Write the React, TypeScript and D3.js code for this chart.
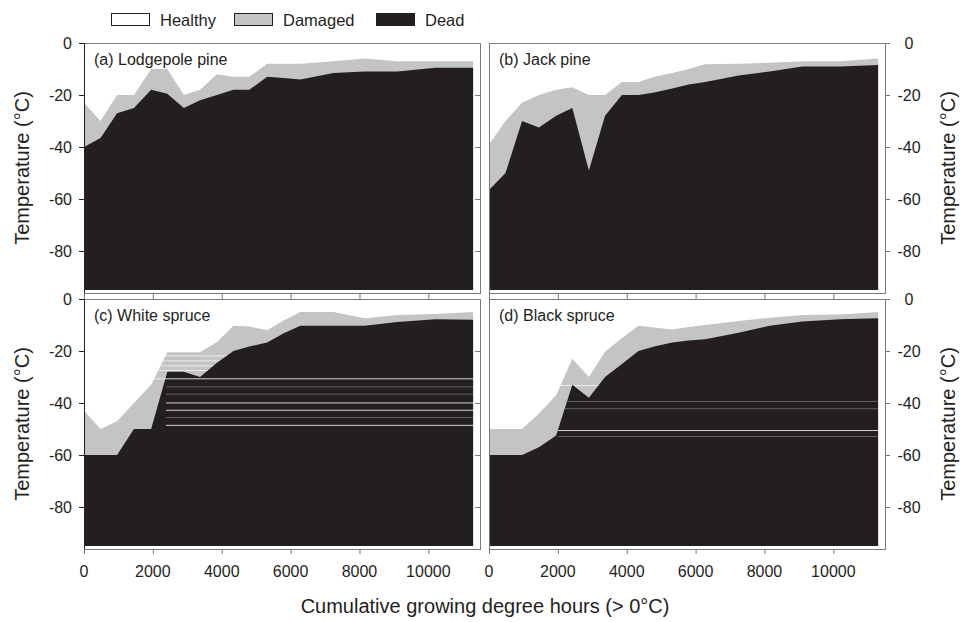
import * as d3 from "d3";

// cumulative growing degree hours (> 0°C) at each sampling date
const gdh = [0, 480, 960, 1450, 1950, 2420, 2900, 3370, 3860, 4340, 4800, 5320, 5800, 6280, 7250, 8150, 9100, 10200, 11300];

// upper temperature of each class (°C); below "dead" everything is dead
const lodgepoleDamaged = [-23, -30, -20, -20, -10, -10, -20, -18, -12, -13, -13, -8, -8, -8, -7, -6, -7, -7, -7];
const lodgepoleDead = [-40, -36.5, -27, -25, -18, -19.5, -25, -22, -20, -18, -18, -13, -13.5, -14, -11.5, -11, -11, -9.5, -9.5];
const jackDamaged = [-39, -30, -23, -20, -18, -17, -20, -20, -15, -15, -13, -11.5, -10, -8.2, -8, -7.6, -7, -7, -6];
const jackDead = [-56.5, -50, -30, -32.5, -28, -25, -49, -28, -20, -20, -19, -17.5, -16, -15, -12.5, -11, -9, -9, -8.5];
const whiteDamaged = [-43, -50, -47, -40, -33, -20.5, -20.5, -20.5, -16.5, -10.3, -10.6, -12, -8.3, -5, -5, -7.4, -6.2, -5.8, -5];
const whiteDead = [-60, -60, -60, -50, -50, -28, -28, -30, -24.5, -20, -18.3, -16.7, -13.2, -10.3, -10.3, -10.3, -8.8, -7.8, -8];
const blackDamaged = [-50, -50, -50, -44, -37, -23, -30, -20.3, -15, -10.3, -11, -11.7, -10.8, -10, -8.5, -7.2, -6.2, -6, -5];
const blackDead = [-60, -60, -60, -57, -52.5, -33, -38, -30, -25, -20, -18.3, -16.7, -16, -15.5, -13, -10.3, -8.7, -7.8, -7.4];

// faint seam lines visible in the printed figure:
// [temperature, start gdh, bright?, drawn over the dead area?]
type Seam = [number, number, number, number];
const whiteSeams: Seam[] = [
  [-21.7, 0, 1, 0], [-23.6, 0, 1, 0], [-25.5, 0, 1, 0], [-27.3, 0, 1, 0], [-30.5, 0, 1, 1], [-33.6, 2380, 0, 1],
  [-36.4, 2380, 0, 1], [-39.8, 2380, 1, 1], [-42.6, 2380, 1, 1], [-45.4, 2380, 0, 1], [-48.4, 2380, 1, 1],
];
const blackSeams: Seam[] = [
  [-33.1, 0, 1, 0], [-39.2, 2200, 0, 1], [-42, 2200, 0, 1], [-50.4, 2000, 1, 1], [-52.7, 2000, 0, 1],
];

const xTicks = [0, 2000, 4000, 6000, 8000, 10000];
const yTicks = [0, -20, -40, -60, -80];
const legendItems = ["Healthy", "Damaged", "Dead"];

const DEAD = "#231f20";
const DAMAGED = "#c3c4c6";
const FRAME = "#7a7a7a";
const FONT = "'Liberation Sans', Arial, Helvetica, sans-serif";

const cols = [{ x0: 84, x1: 480 }, { x0: 489, x1: 885 }];
const rows = [{ y0: 43, y1: 293 }, { y0: 299, y1: 549 }];

const panels = [
  { id: "a", label: "(a) Lodgepole pine", damaged: lodgepoleDamaged, dead: lodgepoleDead, col: 0, row: 0, seams: [] as Seam[] },
  { id: "b", label: "(b) Jack pine", damaged: jackDamaged, dead: jackDead, col: 1, row: 0, seams: [] as Seam[] },
  { id: "c", label: "(c) White spruce", damaged: whiteDamaged, dead: whiteDead, col: 0, row: 1, seams: whiteSeams },
  { id: "d", label: "(d) Black spruce", damaged: blackDamaged, dead: blackDead, col: 1, row: 1, seams: blackSeams },
];

function Panel({ p }: { p: (typeof panels)[number] }) {
  const { x0, x1 } = cols[p.col];
  const { y0, y1 } = rows[p.row];
  const x = d3.scaleLinear().domain([0, 11500]).range([x0, x1]);
  const y = d3.scaleLinear().domain([0, -96.15]).range([y0, y1]);
  const base = -95;

  const area = (vals: number[]) =>
    d3
      .area<number>()
      .x((_, i) => x(gdh[i]))
      .y0(y(base))
      .y1((d) => y(d))(vals) || "";

  const damagedPath = area(p.damaged);
  const deadPath = area(p.dead);
  const clipId = `clip-${p.id}`;
  const xEnd = gdh[gdh.length - 1];
  const isLeft = p.col === 0;

  const seamLines = (over: number) => (
    <g clipPath={`url(#${clipId})`}>
      {p.seams
        .filter((s) => s[3] === over)
        .map(([t, xs, bright], i) => (
          <line
            key={i}
            x1={x(xs)}
            x2={x(xEnd)}
            y1={y(t) + 0.5}
            y2={y(t) + 0.5}
            stroke={bright ? "#f2f2f2" : "#8a8a8a"}
            strokeOpacity={bright ? 0.85 : 0.6}
            strokeWidth={1}
          />
        ))}
    </g>
  );

  return (
    <g>
      <defs>
        <clipPath id={clipId}>
          <path d={damagedPath} />
        </clipPath>
      </defs>
      <path d={damagedPath} fill={DAMAGED} />
      {seamLines(0)}
      <path d={deadPath} fill={DEAD} />
      {seamLines(1)}

      {/* frame */}
      <line x1={x0} x2={x1} y1={y0 + 0.5} y2={y0 + 0.5} stroke={FRAME} />
      <line x1={x0} x2={x1} y1={y1 + 0.5} y2={y1 + 0.5} stroke={FRAME} />
      <line x1={x1 + 0.5} x2={x1 + 0.5} y1={y0} y2={y1 + 1} stroke={FRAME} />
      <line x1={x0 + 0.5} x2={x0 + 0.5} y1={y0} y2={y1 + 1} stroke={isLeft ? DEAD : FRAME} />

      {/* y ticks */}
      {yTicks.map((t) => (
        <g key={t}>
          {isLeft ? (
            <>
              <line x1={x0 - 5} x2={x0} y1={y(t) + 0.5} y2={y(t) + 0.5} stroke={DEAD} />
              <line x1={x1 - 5} x2={x1} y1={y(t) + 0.5} y2={y(t) + 0.5} stroke={FRAME} />
              <text x={x0 - 12} y={y(t)} dy="0.35em" textAnchor="end" fontSize={16} fill={DEAD}>
                {t}
              </text>
            </>
          ) : (
            <>
              <line x1={x1} x2={x1 + 5} y1={y(t) + 0.5} y2={y(t) + 0.5} stroke={FRAME} />
              <text x={x1 + 24} y={y(t)} dy="0.35em" textAnchor="middle" fontSize={16} fill={DEAD}>
                {t}
              </text>
            </>
          )}
        </g>
      ))}

      {/* x ticks */}
      {xTicks.map((t) => (
        <g key={t}>
          <line x1={x(t) + 0.5} x2={x(t) + 0.5} y1={y1} y2={y1 + (p.row === 0 ? 6 : 5)} stroke={FRAME} />
          {p.row === 1 && (
            <text x={x(t)} y={y1 + 22} dy="0.35em" textAnchor="middle" fontSize={16} fill={DEAD}>
              {t}
            </text>
          )}
        </g>
      ))}

      <text x={x0 + 10} y={y0 + 22} fontSize={16} fill={DEAD}>
        {p.label}
      </text>

      <text
        transform={`translate(${isLeft ? 22 : 948},${(y0 + y1) / 2}) rotate(-90)`}
        textAnchor="middle"
        dy="0.35em"
        fontSize={20}
        fill={DEAD}
      >
        Temperature (°C)
      </text>
    </g>
  );
}

export default function App() {
  const legendX = [111, 234, 376];
  return (
    <svg
      width={962}
      height={622}
      style={{ position: "absolute", left: 0, top: 0, background: "#fff" }}
      fontFamily={FONT}
    >
      <rect width={962} height={622} fill="#fff" />
      {legendItems.map((name, i) => (
        <g key={name}>
          <rect
            x={legendX[i] + 0.5}
            y={13.5}
            width={38}
            height={12}
            fill={i === 0 ? "#fff" : i === 1 ? DAMAGED : DEAD}
            stroke={DEAD}
          />
          <text x={legendX[i] + 49} y={26} fontSize={16.5} fill={DEAD}>
            {name}
          </text>
        </g>
      ))}
      {panels.map((p) => (
        <Panel key={p.id} p={p} />
      ))}
      <text x={485} y={613} textAnchor="middle" fontSize={20} fill={DEAD}>
        Cumulative growing degree hours (&gt; 0°C)
      </text>
    </svg>
  );
}
